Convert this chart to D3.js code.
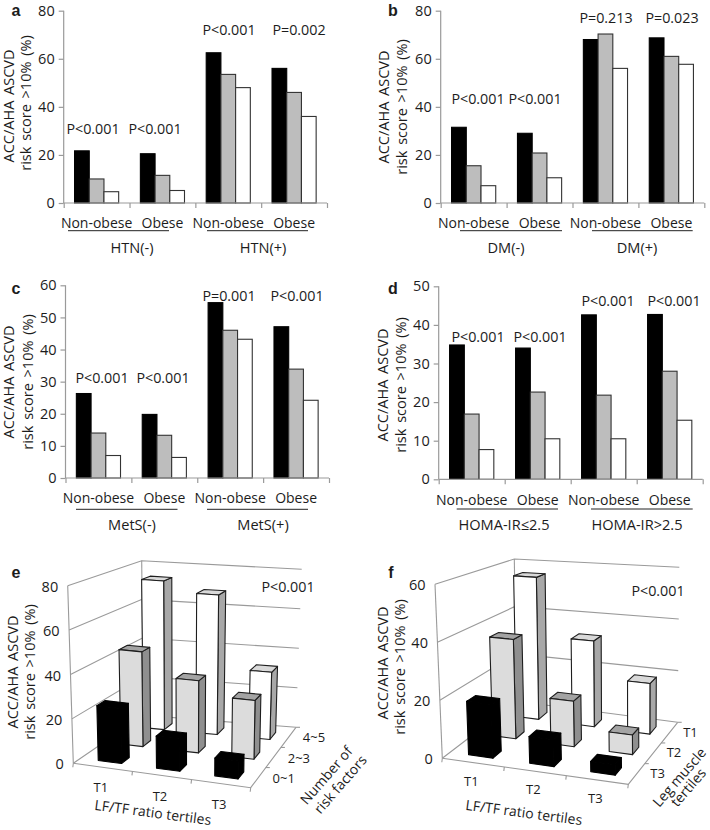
<!DOCTYPE html>
<html><head><meta charset="utf-8">
<script src="https://cdn.jsdelivr.net/npm/d3@7"></script>
<style>html,body{margin:0;padding:0;background:#fff}svg{display:block}text{font-family:"Open Sans",sans-serif;fill:#1c1c1c}</style>
</head><body><svg id="c" width="710" height="830"></svg>
<script>
// ---- data ----
const groupLabels = ["Non-obese","Obese","Non-obese","Obese"];
const seriesNames = ["s1","s2","s3"];
const seriesFills = ["#000000","#bdbdbd","#ffffff"];
const yTitle1 = "ACC/AHA ASCVD", yTitle2 = "risk score >10% (%)";
const valuesA = [[21.7,10,4.7],[20.5,11.5,5.2],[62.5,53.5,48],[56,46,36]];
const valuesB = [[31.5,15.5,7.2],[29,20.8,10.5],[68,70.3,56],[68.7,61,57.7]];
const valuesC = [[26.3,14,7],[19.8,13.3,6.4],[54.6,46,43.2],[47.1,33.9,24.2]];
const valuesD = [[34.8,16.9,7.7],[34,22.6,10.5],[42.6,21.8,10.5],[42.7,28,15.3]];
const pA = ["P<0.001","P<0.001","P<0.001","P=0.002"];
const pB = ["P<0.001","P<0.001","P=0.213","P=0.023"];
const pC = ["P<0.001","P<0.001","P=0.001","P<0.001"];
const pD = ["P<0.001","P<0.001","P<0.001","P<0.001"];
const capsA = ["HTN(-)","HTN(+)"], capsB = ["DM(-)","DM(+)"], capsC = ["MetS(-)","MetS(+)"], capsD = ["HOMA-IR≤2.5","HOMA-IR>2.5"];
const ticksA = [0,20,40,60,80], ticksC = [0,10,20,30,40,50,60], ticksD = [0,10,20,30,40,50];
const tertiles = ["T1","T2","T3"];
const riskFactors = ["0~1","2~3","4~5"];
const legTertiles = ["T3","T2","T1"];
// rows: front depth to back depth, columns T1..T3
const valuesE = [[25,14.5,8],[45,34,27.5],[74,69,33]];
const valuesF = [[18.7,9.2,3.5],[36.7,16.5,7],[56,33,19]];

// ---- layout ----
const svg = d3.select("#c");
const FS = 14, AXIS = "#9a9a9a";
function txt(g,s,x,y,o={}){
  const t=g.append("text").text(s).attr("text-anchor",o.anchor||"middle").attr("dominant-baseline","central")
    .attr("font-size",o.size||FS);
  t.attr("transform",`translate(${x},${y})`+(o.rot?` rotate(${o.rot})`:""));
  if(o.ws) t.attr("word-spacing",o.ws);
  if(o.bold) t.attr("font-weight",700).style("font-family","'Liberation Sans',sans-serif");
  return t;
}
function titles(g,c){
  txt(g,yTitle1,c.t1[0],c.t1[1],{rot:-90,size:14.5,ws:2});
  txt(g,yTitle2,c.t2[0],c.t2[1],{rot:-90,size:14.5,ws:2});
  txt(g,c.letter,c.lp[0],c.lp[1],{bold:true,size:16});
}
function panel2d(c){
  const g=svg.append("g");
  const y=d3.scaleLinear().domain(d3.extent(c.ticks)).range([c.y0,c.y1]);
  const x=d3.scaleBand().domain(d3.range(4)).range([c.x0,c.x1]);
  const inner=d3.scaleBand().domain(seriesNames).range([0,x.bandwidth()]).paddingInner(0).paddingOuter(.738);
  c.values.forEach((row,i)=>{
    g.append("g").selectAll("rect").data(row).join("rect")
      .attr("x",(d,j)=>x(i)+inner(seriesNames[j]))
      .attr("width",inner.bandwidth())
      .attr("y",d=>y(d)).attr("height",d=>c.y0-y(d))
      .attr("fill",(d,j)=>seriesFills[j]).attr("stroke",(d,j)=>j?"#333":"#000").attr("stroke-width",1.1);
  });
  const ya=g.append("g").attr("transform",`translate(${c.x0},0)`).call(d3.axisLeft(y).tickValues(c.ticks).tickSize(5).tickPadding(4));
  const edge=d3.scaleLinear().domain([0,4]).range([c.x0,c.x1]);
  const xa=g.append("g").attr("transform",`translate(0,${c.y0})`).call(d3.axisBottom(edge).tickValues([0,1,2,3,4]).tickSize(5).tickFormat(""));
  [ya,xa].forEach(a=>{a.selectAll("path,line").attr("stroke",AXIS).attr("stroke-width",1.2);a.selectAll("text").attr("font-size",FS+.5).attr("fill","#1c1c1c");});
  xa.select("path").attr("d",`M${c.x0},0H${c.x1}`);
  ya.select("path").attr("d",`M0,${c.y0}V${c.y1}`);
  groupLabels.forEach((s,i)=>txt(g,s,x(i)+x.bandwidth()/2,c.labY,{}));
  c.caps.forEach((s,i)=>{
    txt(g,s,c.capX[i],c.capY,{size:14.6});
    g.append("line").attr("x1",c.rule[i][0]).attr("x2",c.rule[i][1]).attr("y1",c.ruleY).attr("y2",c.ruleY).attr("stroke","#222").attr("stroke-width",1);
  });
  c.p.forEach((s,i)=>txt(g,s,c.pPos[i][0],c.pPos[i][1],{size:14.3}));
  titles(g,c);
}
panel2d({values:valuesA,ticks:ticksA,p:pA,caps:capsA,letter:"a",x0:63.7,x1:327,y0:203,y1:10.7,labY:222.5,capY:247,capX:[132,263],
  rule:[[68,169],[207,308]],ruleY:230.7,pPos:[[93,128],[155,128],[229,29],[299,29]],t1:[8,106],t2:[25,103],lp:[16,10]});
panel2d({values:valuesB,ticks:ticksA,p:pB,caps:capsB,letter:"b",x0:440.7,x1:704.3,y0:203,y1:10.7,labY:222.5,capY:247,capX:[506,637],
  rule:[[460,562],[592,692.7]],ruleY:230.7,pPos:[[478,98],[535,98],[606,17],[672,17]],t1:[383,107],t2:[401,107],lp:[393,10]});
panel2d({values:valuesC,ticks:ticksC,p:pC,caps:capsC,letter:"c",x0:65.5,x1:329,y0:478,y1:285.3,labY:497.5,capY:524,capX:[132,263],
  rule:[[76,177.5],[207,308]],ruleY:509.3,pPos:[[102,377],[163,377],[229,295],[297,295]],t1:[8,382],t2:[27,382],lp:[16,288]});
panel2d({values:valuesD,ticks:ticksD,p:pD,caps:capsD,letter:"d",x0:438.7,x1:702.7,y0:479.3,y1:286.3,labY:499,capY:524,capX:[504,637],
  rule:[[456.7,558],[591,692.7]],ruleY:509,pPos:[[478,336],[540,336],[608,300],[674,300]],t1:[382,385],t2:[400,385],lp:[393,288]});

function panel3d(c){
  const g=svg.append("g");
  const lerp=(a,b,t)=>[a[0]+(b[0]-a[0])*t,a[1]+(b[1]-a[1])*t];
  // trilinear map of the chart box: u along front edge, v into depth, w up
  const proj=(u,v,w)=>{
    const b=lerp(lerp(c.fl,c.fr,u),lerp(c.bl,c.br,u),v);
    const t=lerp(lerp(c.tfl,c.tfr,u),lerp(c.tbl,c.tbr,u),v);
    return lerp(b,t,w);
  };
  const W=d3.scaleLinear().domain([0,c.max]).range([0,1]);
  const U=d3.scaleBand().domain(c.cols).range([0,1]).paddingInner(.6).paddingOuter(.3);
  const V=d3.scaleBand().domain(c.rows).range([0,1]).paddingInner(.64).paddingOuter(.32);
  const line=d3.line();
  const seg=(pts,col=AXIS,sw=1.1)=>g.append("path").attr("d",line(pts)).attr("fill","none").attr("stroke",col).attr("stroke-width",sw);
  // walls and grid
  c.ticks.forEach(t=>{
    const w=W(t);
    seg([proj(0,0,w),proj(0,1,w),proj(1,1,w)]);
    const p=proj(0,0,w);
    txt(g,t,p[0]-9.5,p[1]+.5,{anchor:"end",size:FS+.5});
  });
  seg([proj(0,0,0),proj(0,0,1)]);
  seg([proj(0,1,0),proj(0,1,1)]);
  seg([proj(0,0,0),proj(1,0,0),proj(1,1,0)]);
  d3.range(4).forEach(i=>{const p=proj(i/3,0,0);seg([p,[p[0]-.5,p[1]+4]]);});
  d3.range(1,4).forEach(i=>{const p=proj(1,i/3,0);seg([p,[p[0]+4,p[1]]]);});
  // bars, back row first
  const topFill=["#000","#a3a3a3","#d9d9d9"],sideFill=["#000","#8f8f8f","#a8a8a8"],frontFill=["#000","#dcdcdc","#fff"];
  d3.range(c.rows.length-1,-1,-1).forEach(ri=>{
    c.cols.forEach((col,ci)=>{
      const val=c.values[ri][ci];
      const u0=U(col),u1=u0+U.bandwidth(),v0=V(c.rows[ri]),v1=v0+V.bandwidth(),w=W(val);
      const st=ri===0?"#000":"#1e1e1e";
      const poly=(pts,f)=>g.append("path").attr("d",line(pts)+"Z").attr("fill",f).attr("stroke",st).attr("stroke-width",1.1).attr("stroke-linejoin","round");
      poly([proj(u1,v0,0),proj(u1,v1,0),proj(u1,v1,w),proj(u1,v0,w)],sideFill[ri]);
      poly([proj(u0,v0,w),proj(u1,v0,w),proj(u1,v1,w),proj(u0,v1,w)],topFill[ri]);
      poly([proj(u0,v0,0),proj(u1,v0,0),proj(u1,v0,w),proj(u0,v0,w)],frontFill[ri]);
    });
  });
  c.cols.forEach(col=>{const p=proj(U(col)+U.bandwidth()/2,0,0);txt(g,col,p[0]+c.colOff[0],p[1]+c.colOff[1],{size:13});});
  c.rowLabels.forEach((s,i)=>{const p=proj(1,V(c.rows[i])+V.bandwidth()/2,0);txt(g,s,p[0]+c.rowOff[0],p[1]+c.rowOff[1],{size:13});});
  txt(g,c.xTitle,c.xtp[0],c.xtp[1],{rot:7.5});
  c.depthTitle.forEach((s,i)=>txt(g,s,c.dtp[i][0],c.dtp[i][1],{rot:-49}));
  txt(g,"P<0.001",c.pp[0],c.pp[1],{size:14.3});
  titles(g,c);
}
panel3d({letter:"e",values:valuesE,max:80,ticks:ticksA,cols:tertiles,rows:riskFactors,rowLabels:riskFactors,
  fl:[73.3,763.3],fr:[250.7,787.7],bl:[143.3,715.3],br:[296,727.3],tfl:[67.7,585.7],tfr:[253,606],tbl:[141.7,560.7],tbr:[301.7,569.3],
  colOff:[-2,20],rowOff:[25.5,0],xTitle:"LF/TF ratio tertiles",xtp:[153,812],depthTitle:["Number of","risk factors"],dtp:[[326,775],[340,784]],
  pp:[288,586.7],t1:[12,672],t2:[29,672],lp:[16,572]});
panel3d({letter:"f",values:valuesF,max:60,ticks:[0,20,40,60],cols:tertiles,rows:legTertiles,rowLabels:legTertiles,
  fl:[442.3,758.3],fr:[628.3,784.3],bl:[516.7,701.3],br:[677.7,722.3],tfl:[435,584.3],tfr:[626,603],tbl:[514.3,559],tbr:[679.3,567.3],
  colOff:[-2,18],rowOff:[21,-1],xTitle:"LF/TF ratio tertiles",xtp:[524,812],depthTitle:["Leg muscle","tertiles"],dtp:[[679,777],[688,787]],
  pp:[658,590],t1:[382,663],t2:[399,667],lp:[391,572]});
</script></body></html>
